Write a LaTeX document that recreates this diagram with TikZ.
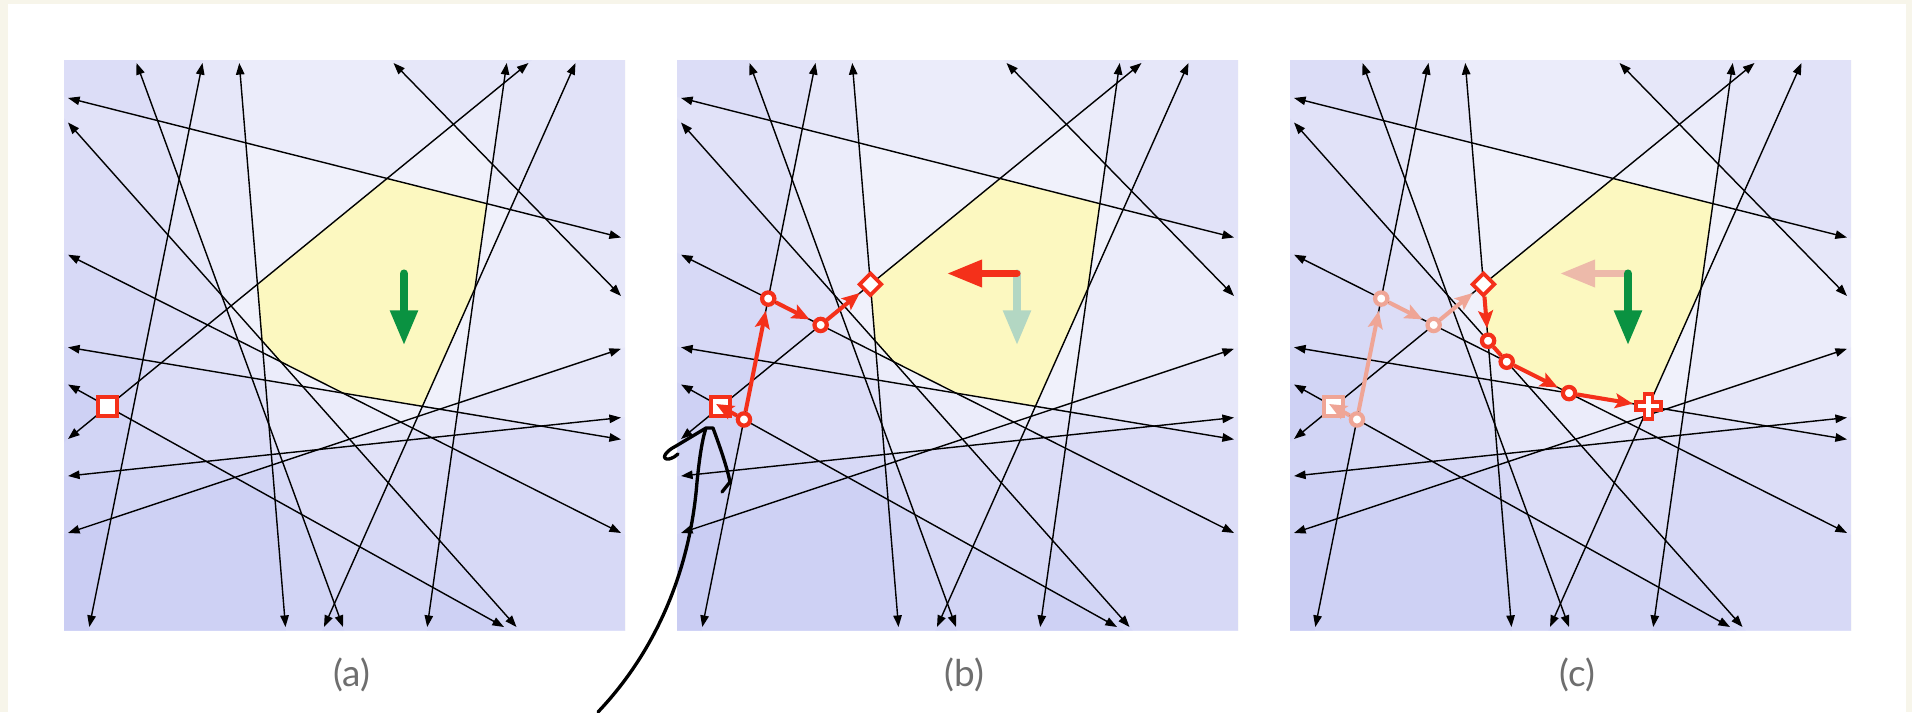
\documentclass[tikz,border=0pt]{standalone}
\usepackage{fontspec}
\setmainfont{Lato}
\usetikzlibrary{arrows.meta,calc,shapes.geometric}

\definecolor{cream}{HTML}{F7F5EA}
\definecolor{panelbg}{HTML}{F6F6FC}
\definecolor{cellblue}{HTML}{646EE6}
\definecolor{feasyellow}{HTML}{FCF8C0}
\definecolor{walkred}{HTML}{F4301A}
\definecolor{fadewalk}{HTML}{EFA596}
\definecolor{fadered}{HTML}{EDBAAA}
\definecolor{objgreen}{HTML}{0A9241}
\definecolor{fadegreen}{HTML}{B3D7C3}
\definecolor{labelgray}{HTML}{6E6E6E}

\tikzset{
  constraint/.style={line width=0.4pt,
    {Triangle[length=3.3pt,width=2.4pt]}-{Triangle[length=3.3pt,width=2.4pt]}},
  violated/.style={fill=cellblue, fill opacity=0.035},
  walkline/.style={walkred, line width=1.15pt},
  walkstep/.style={walkline, shorten >=1.2pt,
    -{Stealth[length=5pt,width=4.2pt,inset=1pt]}},
  vtx/.style={circle, draw=walkred, fill=white, line width=1.2pt,
    inner sep=0pt, minimum size=3.5pt},
  startsq/.style={rectangle, draw=walkred, fill=white, line width=1.1pt,
    inner sep=0pt, minimum size=5.4pt},
  cornerpt/.style={diamond, draw=walkred, fill=white, line width=1.05pt,
    inner sep=0pt, minimum size=6.6pt},
  objective/.style={line width=2.3pt, line cap=round,
    -{Triangle[length=10pt,width=7.4pt]}},
  caption/.style={font=\fontsize{10.5}{12}\selectfont, text=labelgray},
  pics/optplus/.style={code={
    \filldraw[fill=white, draw=walkred, line width=1.05pt]
      (-4,12.5) -- (4,12.5) -- (4,4) -- (12.5,4) -- (12.5,-4)
      -- (4,-4) -- (4,-12.5) -- (-4,-12.5) -- (-4,-4)
      -- (-12.5,-4) -- (-12.5,4) -- (-4,4) -- cycle;
  }}
}

% n / start / end, feasible side on the left
\newcommand{\constraintlist}{%
  1/72.5/567.5/279/3.5, 2/138.5/567.5/25.3/3.5, 3/175.3/567.5/221.5/3.5,
  4/557/334.5/329.5/567.5, 5/363.2/3.5/442.7/567.5, 6/464.5/567.5/4/191.5,
  7/260/3.5/511.5/567.5, 8/557/393/4/532.5, 9/4/508/452.5/3.5,
  10/4/375.8/557/97.5, 11/4/283.2/557/191.1, 12/4/246/440/3.5,
  13/4/154.5/557/212.9, 14/4/97.5/557/281.7}

\newcommand{\arrangement}{%
  \fill[panelbg] (0,0) rectangle (561,570);
  \foreach \n/\xa/\ya/\xb/\yb in \constraintlist {
    \coordinate (s\n) at (\xa,\ya);
    \coordinate (e\n) at (\xb,\yb);
  }
  % one more tint per violated constraint
  \begin{scope}
    \clip (0,0) rectangle (561,570);
    \foreach \n in {1,...,14}
      \fill[violated] ($(s\n)!-1!(e\n)$) coordinate (ea)
        -- ($(e\n)!-1!(s\n)$) coordinate (eb)
        -- ($(eb)!2!90:(ea)$) -- ($(ea)!2!-90:(eb)$) -- cycle;
  \end{scope}
  % feasible region
  \coordinate (v68) at (intersection of s6--e6 and s8--e8);
  \coordinate (v85) at (intersection of s8--e8 and s5--e5);
  \coordinate (v57) at (intersection of s5--e5 and s7--e7);
  \coordinate (v711) at (intersection of s7--e7 and s11--e11);
  \coordinate (v1110) at (intersection of s11--e11 and s10--e10);
  \coordinate (v109) at (intersection of s10--e10 and s9--e9);
  \coordinate (v93) at (intersection of s9--e9 and s3--e3);
  \coordinate (v36) at (intersection of s3--e3 and s6--e6);
  \fill[feasyellow] (v68) -- (v85) -- (v57) -- (v711) -- (v1110)
    -- (v109) -- (v93) -- (v36) -- cycle;
  \foreach \n in {1,...,14}
    \draw[constraint] (s\n) -- (e\n);
}

% first walk, from the start square to the first vertex
\newcommand{\firstwalk}{%
  \node[startsq] (sq) at (intersection of s6--e6 and s12--e12) {};
  \node[vtx] (w1) at (intersection of s2--e2 and s12--e12) {};
  \node[vtx] (w2) at (intersection of s2--e2 and s10--e10) {};
  \node[vtx] (w3) at (intersection of s6--e6 and s10--e10) {};
  \node[cornerpt] (dm) at (v36) {};
  \draw[walkstep, shorten >=0pt] (w1) -- ($(w1)!1.2!(sq)$);
  \draw[walkstep] (w1) -- (w2);
  \draw[walkstep] (w2) -- (w3);
  \draw[walkstep] (w3) -- (dm);
}

\begin{document}
\begin{tikzpicture}[x=0.01cm,y=0.01cm]

\useasboundingbox (0,0) rectangle (1912,712);
\fill[cream] (0,0) rectangle (1912,712);
\fill[white] (8,0) rectangle (1906,708);

% (a) start
\begin{scope}[shift={(64,81.5)}]
  \arrangement
  \node[startsq] (sq) at (intersection of s6--e6 and s12--e12) {};
  \coordinate (obj) at (340,357);
  \coordinate (objdown) at (340,285);
  \draw[objective, objgreen] (obj) -- (objdown);
  \node[caption] (capa) at (287.5,-44) {(a)};
\end{scope}

% (b) walk to a vertex
\begin{scope}[shift={(677,81.5)}]
  \arrangement
  \firstwalk
  \coordinate (obj) at (340,357);
  \coordinate (objdown) at (340,285);
  \coordinate (objleft) at (270,357);
  \draw[objective, fadegreen] (obj) -- (objdown);
  \draw[objective, walkred, line width=2pt] (obj) -- (objleft);
  \node[caption] (capb) at (287.5,-44) {(b)};
\end{scope}

% (c) walk along the boundary
\begin{scope}[shift={(1290,81.5)}]
  \arrangement
  \begin{scope}
    \colorlet{walkred}{fadewalk}
    \firstwalk
  \end{scope}
  \node[cornerpt] (dm) at (v36) {};
  \node[vtx] (t1) at (v93) {};
  \node[vtx] (t2) at (v109) {};
  \node[vtx] (t3) at (v1110) {};
  \coordinate (opt) at (v711);
  \draw[walkstep] (dm) -- (t1);
  \draw[walkline] (t1) -- (t2);
  \draw[walkstep] (t2) -- (t3);
  \draw[walkstep, shorten >=4.5pt] (t3) -- (opt);
  \pic at (opt) {optplus};
  \coordinate (obj) at (338,357);
  \coordinate (objdown) at (338,285);
  \coordinate (objleft) at (270,357);
  \draw[objective, fadered, line width=2pt] (obj) -- (objleft);
  \draw[objective, objgreen] (obj) -- (objdown);
  \node[caption] (capc) at (287.5,-44) {(c)};
\end{scope}

% hand-drawn pointer
\draw[line width=0.95pt, line cap=round, line join=round]
  (598,0) .. controls (655,60) and (690,140) .. (697,230)
  .. controls (700,260) and (703,275) .. (706,284)
  (676,266) -- (706,284) -- (713,284) .. controls (720,265) and (727,245) .. (730,230)
  -- (722,220)
  (676,266) .. controls (664,260) and (661,252) .. (669,253)
  .. controls (673,254) and (676,256) .. (678,258);

\end{tikzpicture}
\end{document}
